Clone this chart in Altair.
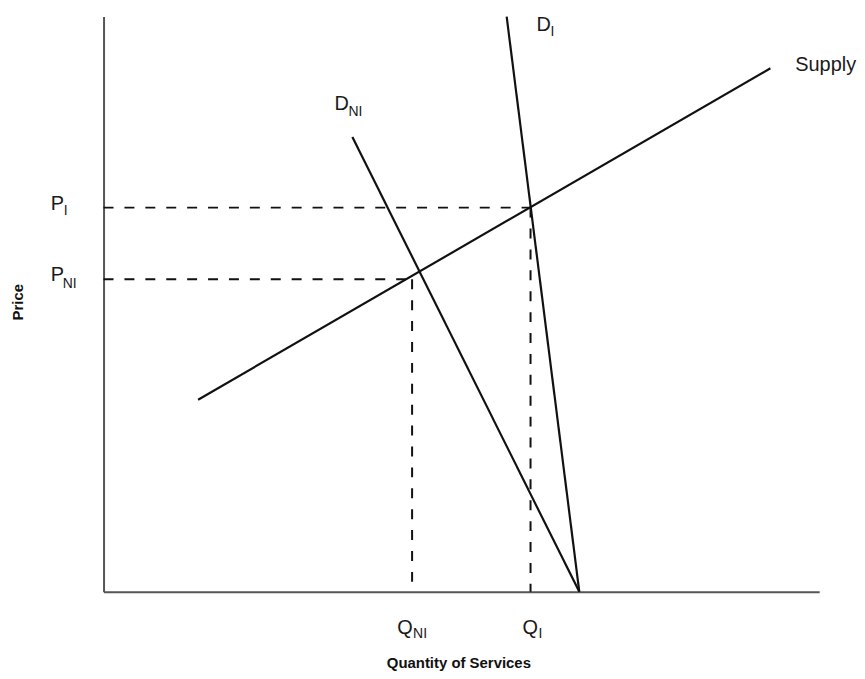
import altair as alt
import pandas as pd

# Curves (quantity, price) endpoints in chart units
supply_q = [95, 670]
supply_p = [193, 526]
dni_q = [250, 478]
dni_p = [457, 0]
di_q = [405, 478]
di_p = [578, 0]

# Equilibrium guide values
p_i, q_i = 386, 429
p_ni, q_ni = 314, 310

# Label texts
main_labels = ["P", "P", "Q", "Q", "D", "D", "Supply"]
main_x = [-53, -53, 295, 421, 232, 435, 695]
main_y = [384, 312, -42, -42, 484, 563, 523]
sub_labels = ["I", "NI", "NI", "I", "NI", "I"]
sub_x = [-40, -41, 311, 437, 246, 449]
sub_y = [379, 305, -46, -46, 478, 558]

FONT = "Liberation Sans"

solid = pd.DataFrame({
    "q": supply_q + dni_q + di_q,
    "p": supply_p + dni_p + di_p,
    "line": ["Supply"] * 2 + ["D_NI"] * 2 + ["D_I"] * 2,
    "order": [0, 1] * 3,
})
dashed = pd.DataFrame({
    "q": [0, q_i, q_i, q_i, 0, q_ni, q_ni, q_ni],
    "p": [p_i, p_i, p_i, 0, p_ni, p_ni, p_ni, 0],
    "line": ["a", "a", "b", "b", "c", "c", "d", "d"],
    "order": [0, 1] * 4,
})
mains = pd.DataFrame({"q": main_x, "p": main_y, "t": main_labels})
subs = pd.DataFrame({"q": sub_x, "p": sub_y, "t": sub_labels})
titles = pd.DataFrame({"q": [-86, 357], "p": [291, -72],
                       "t": ["Price", "Quantity of Services"], "a": [270, 0]})

xs = alt.Scale(domain=[0, 719], nice=False, zero=False)
ys = alt.Scale(domain=[0, 578], nice=False, zero=False)
ax = alt.Axis(title=None, ticks=False, labels=False, grid=False,
              domainColor="#555555", domainWidth=2)

base_axes = alt.Chart(solid).mark_line(stroke="#111111", strokeWidth=2.2).encode(
    x=alt.X("q:Q", scale=xs, axis=ax),
    y=alt.Y("p:Q", scale=ys, axis=ax),
    detail="line:N",
    order="order:Q",
)

dash_layer = alt.Chart(dashed).mark_line(
    stroke="#111111", strokeWidth=2, strokeDash=[10, 11]
).encode(
    x=alt.X("q:Q", scale=xs), y=alt.Y("p:Q", scale=ys),
    detail="line:N", order="order:Q",
)

main_text = alt.Chart(mains).mark_text(
    align="left", baseline="alphabetic", font=FONT, fontSize=20, color="#1a1a1a"
).encode(x=alt.X("q:Q", scale=xs), y=alt.Y("p:Q", scale=ys), text="t:N")

sub_text = alt.Chart(subs).mark_text(
    align="left", baseline="alphabetic", font=FONT, fontSize=14, color="#1a1a1a"
).encode(x=alt.X("q:Q", scale=xs), y=alt.Y("p:Q", scale=ys), text="t:N")

title_y = alt.Chart(titles[titles.a == 270]).mark_text(
    align="center", baseline="middle", font=FONT, fontSize=15,
    fontWeight="bold", angle=270, color="#111111"
).encode(x=alt.X("q:Q", scale=xs), y=alt.Y("p:Q", scale=ys), text="t:N")

title_x = alt.Chart(titles[titles.a == 0]).mark_text(
    align="center", baseline="middle", font=FONT, fontSize=15,
    fontWeight="bold", color="#111111"
).encode(x=alt.X("q:Q", scale=xs), y=alt.Y("p:Q", scale=ys), text="t:N")

chart = alt.layer(base_axes, dash_layer, main_text, sub_text, title_y, title_x).properties(
    width=719, height=578,
    autosize=alt.AutoSizeParams(type="none"),
    padding={"left": 96, "top": 7, "right": 38, "bottom": 78},
    background="white",
).configure_view(stroke=None)

chart.save("out.html", embed_options={"renderer": "svg", "actions": False})
